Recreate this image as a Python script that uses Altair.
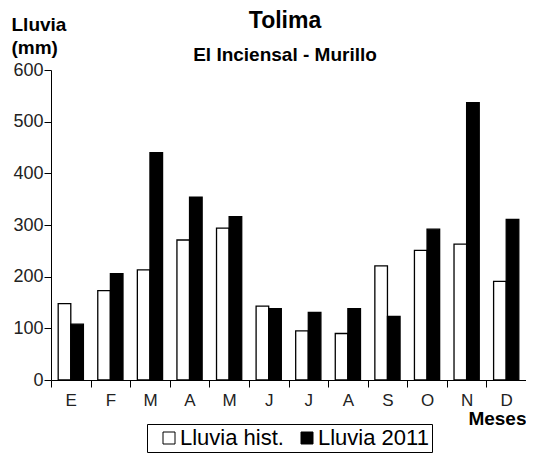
import altair as alt
import pandas as pd

meses = ["E", "F", "M", "A", "M ", "J", "J ", "A ", "S", "O", "N", "D"]
lluvia_hist = [148, 173, 213, 271, 294, 143, 95, 90, 221, 251, 263, 191]
lluvia_2011 = [108, 206, 440, 354, 316, 138, 131, 138, 123, 292, 537, 311]
series = ["Lluvia hist.", "Lluvia 2011"]
titulo = ["Tolima"]
subtitulo = ["El Inciensal - Murillo"]
y_ticks = [0, 100, 200, 300, 400, 500, 600]

rows = []
for i, m in enumerate(meses):
    rows.append({"mes": m, "serie": series[0], "valor": lluvia_hist[i]})
    rows.append({"mes": m, "serie": series[1], "valor": lluvia_2011[i]})
df = pd.DataFrame(rows)

FONT = "Liberation Sans"
W, H = 475, 310

bars = alt.Chart(df).mark_bar(stroke="black", strokeWidth=1.3).encode(
    x=alt.X("mes:N", sort=meses,
            scale=alt.Scale(paddingInner=0, paddingOuter=0),
            axis=alt.Axis(title="Meses", titleAlign="right", titleX=W, titleY=44,
                          titleBaseline="alphabetic", titleFontSize=19, titleFontWeight="bold",
                          titleFont=FONT, titleColor="black",
                          labelFont=FONT, labelFontSize=17, labelColor="#222",
                          labelAngle=0, labelPadding=5, tickBand="extent", tickSize=7,
                          tickColor="black", domainColor="black",
                          labelExpr="trim(datum.label)")),
    xOffset=alt.XOffset("serie:N", sort=series,
                        scale=alt.Scale(paddingInner=0, paddingOuter=0.57)),
    y=alt.Y("valor:Q", scale=alt.Scale(domain=[0, 600], nice=False),
            axis=alt.Axis(values=y_ticks, grid=False,
                          title=["Lluvia", "(mm)"], titleAngle=0, titleAlign="left",
                          titleBaseline="alphabetic", titleX=-40, titleY=-40,
                          titleLineHeight=23,
                          titleFontSize=19, titleFontWeight="bold", titleFont=FONT,
                          titleColor="black",
                          labelFont=FONT, labelFontSize=18, labelColor="#222",
                          labelPadding=1, tickSize=7, tickColor="black",
                          domainColor="black")),
    color=alt.Color("serie:N", sort=series,
                    scale=alt.Scale(domain=series, range=["white", "black"]),
                    legend=alt.Legend(title=None, orient="none", legendX=96, legendY=354,
                                      direction="horizontal", columns=2,
                                      symbolType="square", symbolSize=144,
                                      symbolStrokeColor="black", symbolStrokeWidth=1,
                                      symbolOffset=8,
                                      labelFont=FONT, labelFontSize=22, labelColor="black",
                                      labelOffset=0, columnPadding=4,
                                      strokeColor="black", padding=3)),
)

title_txt = alt.Chart(pd.DataFrame({"t": titulo})).mark_text(
    font=FONT, fontSize=23, fontWeight="bold", color="black",
    align="center", baseline="alphabetic"
).encode(text="t:N", x=alt.value(234), y=alt.value(-42))

subtitle_txt = alt.Chart(pd.DataFrame({"t": subtitulo})).mark_text(
    font=FONT, fontSize=19, fontWeight="bold", color="black",
    align="center", baseline="alphabetic"
).encode(text="t:N", x=alt.value(234), y=alt.value(-9))

chart = alt.layer(bars, title_txt, subtitle_txt).properties(
    width=W, height=H,
    autosize=alt.AutoSizeParams(type="none"),
    padding={"left": 43, "top": 62, "right": 0, "bottom": 73},
).configure_view(stroke=None)

chart.save("out.html", embed_options={"renderer": "svg", "actions": False})
